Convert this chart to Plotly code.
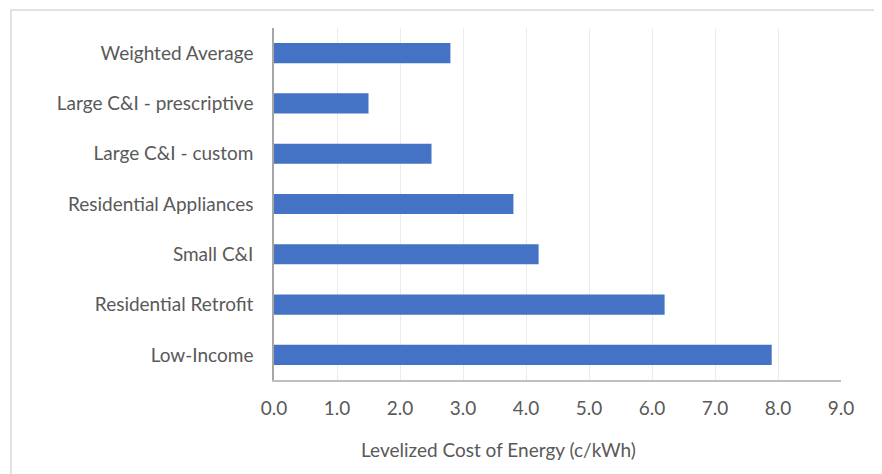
import plotly.graph_objects as go

categories = ["Low-Income", "Residential Retrofit", "Small C&I", "Residential Appliances",
              "Large C&I - custom", "Large C&I - prescriptive", "Weighted Average"]
values = [7.9, 6.2, 4.2, 3.8, 2.5, 1.5, 2.8]
x_ticks = [0, 1, 2, 3, 4, 5, 6, 7, 8, 9]
x_tick_labels = ["0.0", "1.0", "2.0", "3.0", "4.0", "5.0", "6.0", "7.0", "8.0", "9.0"]
x_title = "Levelized Cost of Energy (c/kWh)"

font_family = "Lato, Open Sans, sans-serif"
text_color = "#595959"

L, T, PW, PH = 266, 20, 567, 352

fig = go.Figure(go.Bar(
    y=categories, x=values, orientation="h",
    marker=dict(color="#4472C4", line=dict(width=0)),
    width=0.4,
))

fig.update_layout(
    width=882, height=474,
    margin=dict(l=L, r=882 - L - PW, t=T, b=474 - T - PH),
    paper_bgcolor="white", plot_bgcolor="white",
    showlegend=False,
    font=dict(family=font_family, color=text_color, size=19),
    shapes=[dict(type="rect", xref="paper", yref="paper",
                 x0=(3 - L) / PW, x1=1.3, y0=-0.5, y1=1 + (T - 2) / PH,
                 line=dict(color="#d9d9d9", width=1.5), fillcolor="rgba(0,0,0,0)",
                 layer="below")],
    annotations=[dict(text=x_title, xref="paper", yref="paper",
                      x=(490 - L) / PW, y=-69 / PH, xanchor="center", yanchor="middle",
                      showarrow=False, font=dict(size=19, color=text_color))],
)

fig.update_xaxes(
    range=[0, 9], tickvals=x_ticks, ticktext=x_tick_labels,
    showgrid=True, gridcolor="#ebebeb", gridwidth=1,
    showline=True, linecolor="#bfbfbf", linewidth=1.5,
    zeroline=False, ticks="", ticklabelstandoff=10,
    tickfont=dict(size=19, color=text_color),
    fixedrange=True,
)
fig.update_yaxes(
    categoryorder="array", categoryarray=categories,
    range=[-0.5, 6.5],
    showgrid=False, showline=True, linecolor="#a6a6a6", linewidth=1.5,
    ticks="", ticklabelstandoff=15,
    tickfont=dict(size=19, color=text_color),
    fixedrange=True,
)

fig.write_html("out.html")
